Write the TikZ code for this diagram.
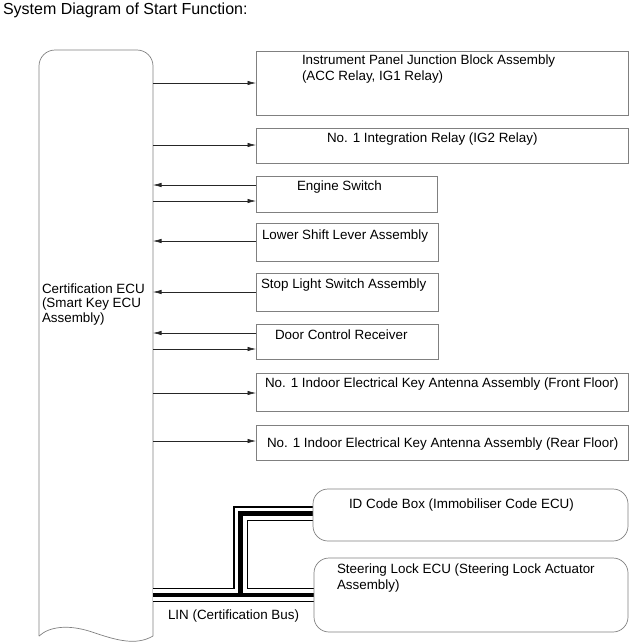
\documentclass[tikz,border=0pt]{standalone}
\usepackage{fontspec}
\setmainfont{Liberation Sans}
\usetikzlibrary{arrows.meta}
\begin{document}
\begin{tikzpicture}[x=1pt,y=-1pt,
  box/.style={draw=black!50,line width=0.7pt,rectangle,inner sep=0pt,outer sep=0pt,anchor=north west},
  rbox/.style={box,rounded corners=15pt},
  ecul/.style={draw=black!50,line width=0.7pt},
  lbl/.style={inner sep=0pt,outer sep=0pt,anchor=base west,font=\fontsize{13.4}{16}\selectfont},
  mlbl/.style={inner sep=0pt,outer sep=0pt,anchor=north west,align=left,font=\fontsize{13.4}{16}\selectfont},
  arr/.style={draw=black!85,line width=0.6pt,-{Latex[length=8.5pt,width=4.4pt]}},
  ]
\useasboundingbox (0,0) rectangle (629,643);

% title
\node[lbl,font=\fontsize{16}{19}\selectfont] (title) at (3,14) {System Diagram of Start Function:};

% ECU
\node[inner sep=0pt,outer sep=0pt,minimum width=114pt,minimum height=586pt,anchor=north west] (ecu) at (39,50) {};
\draw[ecul,rounded corners=16pt] (39,636) -- (39,50) -- (153,50) -- (153,636);
\draw[ecul] (153,636) .. controls (136,646) and (116,640) .. (95,633) .. controls (70,624) and (50,626) .. (39,636);
\node[mlbl,font=\fontsize{13.4}{14.5}\selectfont] (ecutext) at (42,283.4) {Certification ECU\\(Smart Key ECU\\Assembly)};

% boxes
\node[box,minimum width=372pt,minimum height=64pt] (b1) at (256,51) {};
\node[box,minimum width=372pt,minimum height=35pt] (b2) at (256,128) {};
\node[box,minimum width=181pt,minimum height=36pt] (b3) at (256,176) {};
\node[box,minimum width=182pt,minimum height=38pt] (b4) at (256,223) {};
\node[box,minimum width=182pt,minimum height=38pt] (b5) at (256,273) {};
\node[box,minimum width=182pt,minimum height=35pt] (b6) at (256,324) {};
\node[box,minimum width=372pt,minimum height=38pt] (b7) at (256,373) {};
\node[box,minimum width=372pt,minimum height=35pt] (b8) at (256,425) {};

% LIN bus
\foreach \w/\c in {14.5pt/black, 12pt/white, 4.5pt/black} {
  \draw[line width=\w,draw=\c] (ecu.east |- 0,595) -- (314,595)
     (240.5,595) -- (240.5,513.5) -- (313,513.5);
}

\node[rbox,minimum width=315pt,minimum height=52pt] (id) at (313,489) {};
\node[rbox,minimum width=314pt,minimum height=74pt] (steer) at (314,558) {};

% labels
\node[mlbl] (t1) at (302,54.3) {Instrument Panel Junction Block Assembly\\(ACC Relay, IG1 Relay)};
\node[lbl] (t2) at (327,142) {No. 1 Integration Relay (IG2 Relay)};
\node[lbl] (t3) at (297,190) {Engine Switch};
\node[lbl] (t4) at (262,239) {Lower Shift Lever Assembly};
\node[lbl] (t5) at (261,288) {Stop Light Switch Assembly};
\node[lbl] (t6) at (275,339) {Door Control Receiver};
\node[lbl] (t7) at (265,387) {No. 1 Indoor Electrical Key Antenna Assembly (Front Floor)};
\node[lbl] (t8) at (267,447) {No. 1 Indoor Electrical Key Antenna Assembly (Rear Floor)};
\node[lbl] (t9) at (349,508) {ID Code Box (Immobiliser Code ECU)};
\node[mlbl] (t10) at (337,563.3) {Steering Lock ECU (Steering Lock Actuator\\Assembly)};
\node[lbl] (lin) at (168,619) {LIN (Certification Bus)};

% arrows
\draw[arr] (ecu.east |- 0,83) -- (b1.west |- 0,83);
\draw[arr] (ecu.east |- 0,145) -- (b2.west |- 0,145);
\draw[arr] (b3.west |- 0,185) -- (ecu.east |- 0,185);
\draw[arr] (ecu.east |- 0,201) -- (b3.west |- 0,201);
\draw[arr] (b4.west |- 0,241) -- (ecu.east |- 0,241);
\draw[arr] (b5.west |- 0,292) -- (ecu.east |- 0,292);
\draw[arr] (b6.west |- 0,333) -- (ecu.east |- 0,333);
\draw[arr] (ecu.east |- 0,349) -- (b6.west |- 0,349);
\draw[arr] (ecu.east |- 0,393) -- (b7.west |- 0,393);
\draw[arr] (ecu.east |- 0,441) -- (b8.west |- 0,441);
\end{tikzpicture}
\end{document}
